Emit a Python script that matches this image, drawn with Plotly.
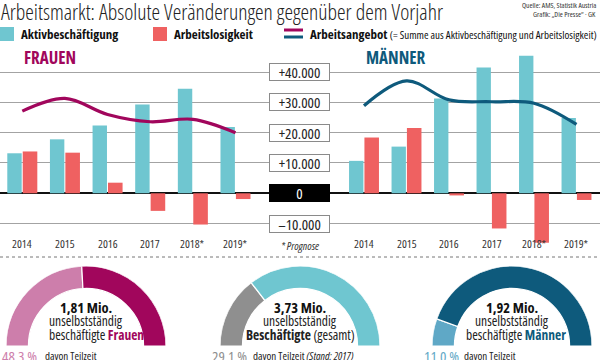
import plotly.graph_objects as go

# ---------------- data ----------------
years = ["2014", "2015", "2016", "2017", "2018*", "2019*"]
frauen_aktiv = [13200, 17800, 22400, 29300, 34500, 21900]
frauen_alo = [13800, 13400, 3500, -5800, -10300, -1900]
frauen_angebot = [27100, 31300, 26000, 23600, 24400, 20000]
maenner_aktiv = [10700, 15400, 31300, 41500, 45400, 24800]
maenner_alo = [18400, 21500, -700, -11600, -16300, -2200]
maenner_angebot = [28900, 37100, 30800, 30200, 29700, 22700]
scale_vals = [40000, 30000, 20000, 10000, 0, -10000]
scale_text = ["+40.000", "+30.000", "+20.000", "+10.000", "0", "–10.000"]

donut_totals = ["1,81 Mio.", "3,73 Mio.", "1,92 Mio."]
teilzeit_pct = [48.3, 29.1, 11.0]
teilzeit_text = ["48.3 %", "29.1 %", "11.0 %"]

# ---------------- style ----------------
FONT = "Open Sans, Roboto, sans-serif"
TEAL = "#6fc6d0"
RED = "#ef6161"
MAGENTA = "#a1065c"
BLUE = "#0e5a7c"
W, H = 600, 360


def C(t):
    return "<span style='font-stretch:condensed'>" + t + "</span>"


def px(x):
    return x / W


def py(y):
    return (H - y) / H


fig = go.Figure()
xs = list(range(len(years)))

for ax, aktiv, alo, ang, col in [
    ("", frauen_aktiv, frauen_alo, frauen_angebot, MAGENTA),
    ("2", maenner_aktiv, maenner_alo, maenner_angebot, BLUE),
]:
    fig.add_trace(go.Bar(x=xs, y=aktiv, marker_color=TEAL, offset=-0.352, width=0.338,
                         xaxis="x" + ax, yaxis="y" + ax, showlegend=False, marker_line_width=0))
    fig.add_trace(go.Bar(x=xs, y=alo, marker_color=RED, offset=0.01, width=0.342,
                         xaxis="x" + ax, yaxis="y" + ax, showlegend=False, marker_line_width=0))
    fig.add_trace(go.Scatter(x=xs, y=ang, mode="lines",
                             line=dict(color=col, width=3.2, shape="spline", smoothing=1),
                             xaxis="x" + ax, yaxis="y" + ax, showlegend=False))

yrange = [-17051, 47263]
ydom = [py(245), py(50)]
yax = dict(range=yrange, domain=ydom, showticklabels=False, ticks="", tickvals=scale_vals,
           showgrid=True, gridcolor="#a3a3a3", gridwidth=1, zeroline=True, zerolinecolor="#111",
           zerolinewidth=1.5, fixedrange=True)
fig.update_layout(
    xaxis=dict(domain=[0, px(269)], range=[-0.523, 5.786], visible=False, anchor="y"),
    xaxis2=dict(domain=[px(330), 1], range=[-0.8, 5.553], visible=False, anchor="y2"),
    yaxis=dict(**yax, anchor="x"),
    yaxis2=dict(**yax, anchor="x2"),
)

annotations = []
shapes = []

shapes.append(dict(type="line", xref="paper", yref="y", x0=px(269), x1=px(330), y0=0, y1=0,
                   line=dict(color="#111", width=1.5)))

# center scale labels
for v, t in zip(scale_vals, scale_text):
    is0 = v == 0
    annotations.append(dict(xref="paper", yref="y", x=px(299.5), y=v, text=C(t), showarrow=False,
                            font=dict(family=FONT, size=15, color="white" if is0 else "#222"),
                            bgcolor="#000" if is0 else "white", bordercolor="#000" if is0 else "#8a8a8a",
                            borderwidth=1, borderpad=1, width=57, height=14, xanchor="center", yanchor="middle"))

# year labels
for ax in ["x", "x2"]:
    for i, yv in enumerate(years):
        annotations.append(dict(xref=ax, yref="paper", x=i, y=py(243), text=C(yv), showarrow=False,
                                font=dict(family=FONT, size=11.5, color="#333"), xanchor="center", yanchor="middle"))
annotations.append(dict(xref="paper", yref="paper", x=px(299.5), y=py(245), text=C("<i>* Prognose</i>"),
                        showarrow=False, font=dict(family=FONT, size=11, color="#333"),
                        xanchor="center", yanchor="middle"))

# panel titles
annotations.append(dict(xref="paper", yref="paper", x=px(22), y=py(57), text=C("<b>FRAUEN</b>"), showarrow=False,
                        xanchor="left", yanchor="middle", font=dict(family=FONT, size=17, color=MAGENTA)))
annotations.append(dict(xref="paper", yref="paper", x=px(364), y=py(57), text=C("<b>MÄNNER</b>"), showarrow=False,
                        xanchor="left", yanchor="middle", font=dict(family=FONT, size=17, color=BLUE)))

# title & source
annotations.append(dict(xref="paper", yref="paper", x=-0.002, y=py(11),
                        text=C("Arbeitsmarkt: Absolute Veränderungen gegenüber dem Vorjahr"),
                        showarrow=False, xanchor="left", yanchor="middle",
                        font=dict(family=FONT, size=21.7, color="#222", weight=300)))
annotations.append(dict(xref="paper", yref="paper", x=px(598), y=py(5), text=C("Quelle: AMS, Statistik Austria"),
                        showarrow=False, xanchor="right", yanchor="middle", font=dict(family=FONT, size=7.5, color="#333")))
annotations.append(dict(xref="paper", yref="paper", x=px(598), y=py(14), text=C("Grafik: „Die Presse“ · GK"),
                        showarrow=False, xanchor="right", yanchor="middle", font=dict(family=FONT, size=7.5, color="#333")))

# legend
shapes.append(dict(type="rect", xref="paper", yref="paper", x0=px(0), x1=px(14), y0=py(41), y1=py(27),
                   fillcolor=TEAL, line_width=0))
shapes.append(dict(type="rect", xref="paper", yref="paper", x0=px(153), x1=px(167), y0=py(41), y1=py(27),
                   fillcolor=RED, line_width=0))
shapes.append(dict(type="line", xref="paper", yref="paper", x0=px(284), x1=px(303), y0=py(30), y1=py(30),
                   line=dict(color=MAGENTA, width=3)))
shapes.append(dict(type="line", xref="paper", yref="paper", x0=px(284), x1=px(303), y0=py(37), y1=py(37),
                   line=dict(color=BLUE, width=3)))
for x, t in [(19, "<b>Aktivbeschäftigung</b>"), (172, "<b>Arbeitslosigkeit</b>"),
             (308, "<b>Arbeitsangebot</b> <span style='font-size:11px'>(= Summe aus Aktivbeschäftigung und Arbeitslosigkeit)</span>")]:
    annotations.append(dict(xref="paper", yref="paper", x=px(x), y=py(34), text=C(t), showarrow=False,
                            xanchor="left", yanchor="middle", font=dict(family=FONT, size=13, color="#111")))

# dotted separator
shapes.append(dict(type="line", xref="paper", yref="paper", x0=0, x1=1, y0=py(257), y1=py(257),
                   line=dict(color="#777", width=1, dash="dot")))

# donuts
donut_cols = [("#cd7eab", MAGENTA), ("#8f8f8f", TEAL), ("#5fa8c6", BLUE)]
centers = [86, 300, 512]
R = 80
CY = 346
label_html = [
    "beschäftigte <b><span style='color:%s'>Frauen</span></b>" % MAGENTA,
    "<b>Beschäftigte</b> (gesamt)",
    "beschäftigte <b><span style='color:%s'>Männer</span></b>" % BLUE,
]
label_cx = [96, 300, 516]
teil_html = ["davon Teilzeit", "davon Teilzeit <i>(Stand: 2017)</i>", "davon Teilzeit"]
teil_x = [0, 210, 422]
teil_dx = [43, 251, 462]
for i, cx in enumerate(centers):
    pname = "polar" if i == 0 else "polar%d" % (i + 1)
    p = teilzeit_pct[i]
    fig.add_trace(go.Barpolar(r=[0.28, 0.28], base=[0.72, 0.72],
                              theta=[p * 0.9, 90 + p * 0.9], width=[p * 1.8, 180 - p * 1.8],
                              marker=dict(color=list(donut_cols[i]), line=dict(color="white", width=1.2)),
                              subplot=pname, showlegend=False))
    fig.update_layout(**{pname: dict(
        domain=dict(x=[px(cx - R), px(cx + R)], y=[py(CY), py(CY - R)]),
        sector=[0, 180], hole=0, bgcolor="rgba(0,0,0,0)",
        radialaxis=dict(range=[0, 1], visible=False, autorange=False),
        angularaxis=dict(visible=False, rotation=180, direction="clockwise"),
    )})
    annotations.append(dict(xref="paper", yref="paper", x=px(cx), y=py(307.5), text=C("<b>%s</b>" % donut_totals[i]),
                            showarrow=False, font=dict(family=FONT, size=14.5, color="#111"),
                            xanchor="center", yanchor="middle"))
    annotations.append(dict(xref="paper", yref="paper", x=px(cx), y=py(321), text=C("unselbstständig"),
                            showarrow=False, font=dict(family=FONT, size=13.5, color="#222"),
                            xanchor="center", yanchor="middle"))
    annotations.append(dict(xref="paper", yref="paper", x=px(label_cx[i]), y=py(335), text=C(label_html[i]),
                            showarrow=False, font=dict(family=FONT, size=13.5, color="#222"),
                            xanchor="center", yanchor="middle"))
    annotations.append(dict(xref="paper", yref="paper", x=px(teil_x[i]), y=py(344), text=C(teilzeit_text[i]),
                            showarrow=False, xanchor="left", yanchor="top",
                            font=dict(family=FONT, size=15, color=donut_cols[i][0])))
    annotations.append(dict(xref="paper", yref="paper", x=px(teil_dx[i]), y=py(346), text=C(teil_html[i]),
                            showarrow=False, xanchor="left", yanchor="top",
                            font=dict(family=FONT, size=11, color="#222")))

fig.update_layout(width=W, height=H, margin=dict(l=0, r=0, t=0, b=0), paper_bgcolor="white",
                  plot_bgcolor="rgba(0,0,0,0)", annotations=annotations, shapes=shapes,
                  barmode="overlay", showlegend=False)
fig.write_html("out.html", config={"displayModeBar": False},
               post_script="document.body.style.margin='0px';")
